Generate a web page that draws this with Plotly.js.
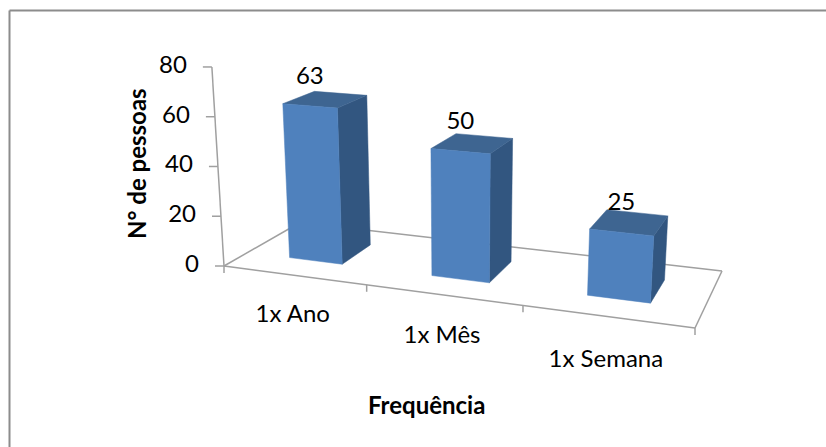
<!DOCTYPE html>
<html><head><meta charset="utf-8">
<script src="https://cdn.plot.ly/plotly-3.0.1.min.js"></script>
<style>html,body{margin:0;padding:0;background:#fff}</style></head>
<body><div id="chart" style="width:826px;height:447px"></div>
<script>
var categories = ["1x Ano", "1x Mês", "1x Semana"];
var values = [63, 50, 25];
var yTicks = [0, 20, 40, 60, 80];
var xTitle = "Frequência";
var yTitle = "N° de pessoas";

var FONT = "Lato, 'Open Sans', sans-serif";
var C = {front:"#4f81bd", top:"#3e6591", side:"#325680", axis:"#a0a0a0", text:"#000000"};

// Homography of the chart floor: u = category position 0..3, d = depth 0..1
var src = [[224,266],[695,328],[722,271],[300,222.5]];
function solveH(p){
  var dx1=p[1][0]-p[2][0],dx2=p[3][0]-p[2][0],sx=p[0][0]-p[1][0]+p[2][0]-p[3][0];
  var dy1=p[1][1]-p[2][1],dy2=p[3][1]-p[2][1],sy=p[0][1]-p[1][1]+p[2][1]-p[3][1];
  var den=dx1*dy2-dx2*dy1;
  var g=(sx*dy2-dx2*sy)/den,h=(dx1*sy-sx*dy1)/den;
  return [p[1][0]-p[0][0]+g*p[1][0],p[3][0]-p[0][0]+h*p[3][0],p[0][0],
          p[1][1]-p[0][1]+g*p[1][1],p[3][1]-p[0][1]+h*p[3][1],p[0][1],g,h];
}
var H = solveH(src);
function proj(u,d,v){
  var s=u/3,w=H[6]*s+H[7]*d+1;
  var X=(H[0]*s+H[1]*d+H[2])/w,Y=(H[3]*s+H[4]*d+H[5])/w;
  // perspective: height scale grows toward the viewer, verticals converge downward
  var k=2.38+0.0054*(Y-246);
  var lean=0.00064*(X-462)*(k/2.5);
  return [X+lean*v, Y-k*v];
}
function face(pts,color,name,val){
  return {type:"scatter",mode:"lines",x:pts.map(function(p){return p[0]}).concat(pts[0][0]),
    y:pts.map(function(p){return p[1]}).concat(pts[0][1]),fill:"toself",fillcolor:color,
    line:{color:color,width:0.5},name:name,text:String(val),hoverinfo:"name+text",showlegend:false};
}
function line(a,b){
  return {type:"scatter",mode:"lines",x:[a[0],b[0]],y:[a[1],b[1]],
    line:{color:C.axis,width:1.5},hoverinfo:"skip",showlegend:false};
}
var traces=[];
traces.push(line(proj(0,0,0),proj(3,0,0)));
traces.push(line(proj(3,0,0),proj(3,1,0)));
traces.push(line(proj(3,1,0),proj(0,1,0)));
traces.push(line(proj(0,1,0),proj(0,0,0)));
categories.forEach(function(c,i){ var p=proj(i+1,0,0); traces.push(line(p,[p[0],p[1]+7])); });
var p0=proj(0,0,0); traces.push(line(p0,[p0[0],p0[1]+7]));
var yTop=80;
traces.push(line(proj(0,0,0),proj(0,0,yTop)));
var tickX=[],tickY=[];
yTicks.forEach(function(t){
  var p=proj(0,0,t); traces.push(line(p,[p[0]-9,p[1]]));
  tickX.push(p[0]-25); tickY.push(p[1]);
});
traces.push({type:"scatter",mode:"text",x:tickX,y:tickY,text:yTicks.map(String),textposition:"middle left",
  textfont:{family:FONT,size:24,color:C.text},hoverinfo:"skip",showlegend:false});
var half=0.19, bd0=0.29, bd1=0.71;
var labX=[],labY=[],catX=[],catY=[];
values.forEach(function(v,i){
  var c=i+0.5, l=c-half, r=c+half;
  var n=categories[i];
  traces.push(face([proj(r,bd0,0),proj(r,bd1,0),proj(r,bd1,v),proj(r,bd0,v)],C.side,n,v));
  traces.push(face([proj(l,bd0,v),proj(r,bd0,v),proj(r,bd1,v),proj(l,bd1,v)],C.top,n,v));
  traces.push(face([proj(l,bd0,0),proj(r,bd0,0),proj(r,bd0,v),proj(l,bd0,v)],C.front,n,v));
  var t=proj(c,bd0,v); labX.push(t[0]); labY.push(t[1]-28);
  var q=proj(i+0.5,0,0); catX.push(q[0]-1); catY.push(q[1]+41+i*i*1);
});
traces.push({type:"scatter",mode:"text",x:labX,y:labY,text:values.map(String),textposition:"middle center",
  textfont:{family:FONT,size:24,color:C.text},hoverinfo:"skip",showlegend:false});
traces.push({type:"scatter",mode:"text",x:catX,y:catY,text:categories,textposition:"middle center",
  textfont:{family:FONT,size:24,color:C.text},hoverinfo:"skip",showlegend:false});

var frame={type:"line",xref:"paper",yref:"paper",line:{color:"#8c8c8c",width:2},layer:"below"};
var layout={
  width:826,height:447,margin:{l:0,r:0,t:0,b:0},paper_bgcolor:"#fff",plot_bgcolor:"#fff",showlegend:false,
  xaxis:{range:[0,826],visible:false,fixedrange:true},
  yaxis:{range:[447,0],visible:false,fixedrange:true},
  shapes:[
    Object.assign({},frame,{x0:9.5/826,x1:1,y0:1-10.5/447,y1:1-10.5/447}),
    Object.assign({},frame,{x0:9.5/826,x1:9.5/826,y0:1-10.5/447,y1:0})
  ],
  annotations:[
    {xref:"x",yref:"y",x:136,y:164,text:"<b>"+yTitle+"</b>",textangle:-90,showarrow:false,
     font:{family:FONT,size:24,color:C.text}},
    {xref:"x",yref:"y",x:426,y:404,text:"<b>"+xTitle+"</b>",showarrow:false,
     font:{family:FONT,size:24,color:C.text}}
  ]
};
Plotly.newPlot("chart",traces,layout,{displayModeBar:false,staticPlot:true});
</script></body></html>
